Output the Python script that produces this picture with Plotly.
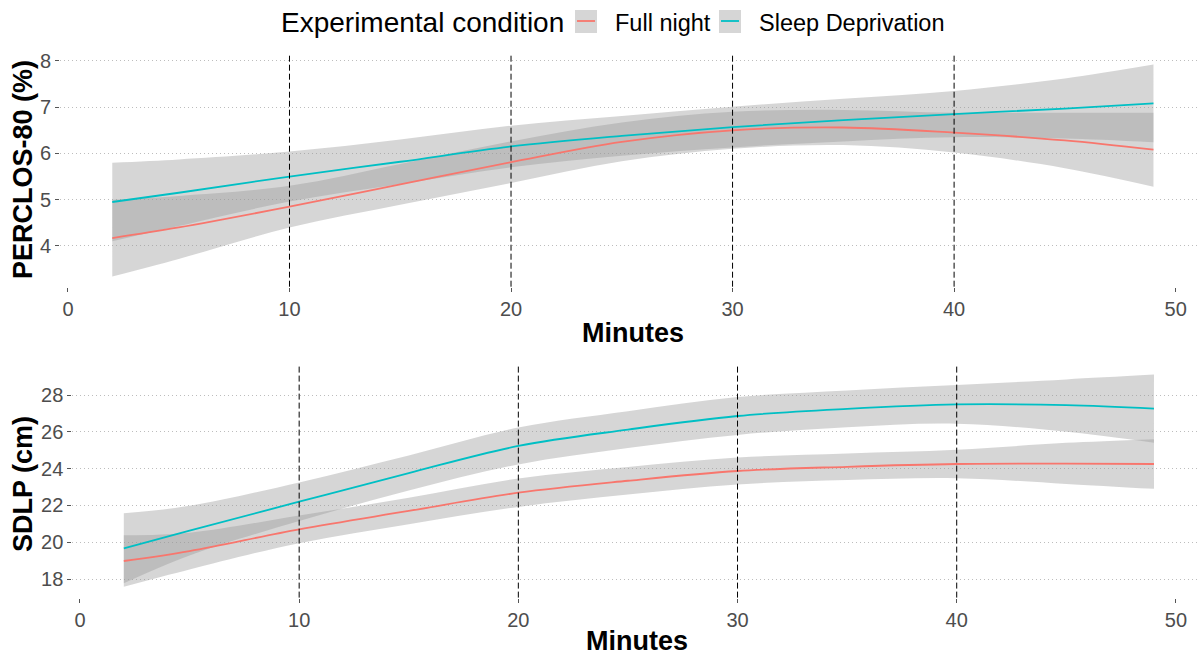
import plotly.graph_objects as go

# ---------------- data ----------------
minutes = [2, 5, 10, 15, 20, 25, 30, 35, 40, 45, 49]

# PERCLOS-80 (%)
perclos_fn_fit = [4.17, 4.40, 4.85, 5.33, 5.81, 6.25, 6.50, 6.56, 6.45, 6.28, 6.08]
perclos_fn_lo  = [3.34, 3.72, 4.40, 4.89, 5.36, 5.83, 6.10, 6.18, 6.02, 5.68, 5.28]
perclos_fn_hi  = [5.00, 5.08, 5.30, 5.77, 6.26, 6.67, 6.90, 6.94, 6.88, 6.88, 6.88]
perclos_sd_fit = [4.95, 5.15, 5.50, 5.82, 6.15, 6.38, 6.57, 6.72, 6.85, 6.97, 7.08]
perclos_sd_lo  = [4.10, 4.43, 4.96, 5.34, 5.70, 5.95, 6.13, 6.26, 6.35, 6.32, 6.24]
perclos_sd_hi  = [5.80, 5.87, 6.04, 6.30, 6.60, 6.81, 7.01, 7.18, 7.35, 7.62, 7.92]

# SDLP (cm)
sdlp_fn_fit = [18.98, 19.52, 20.70, 21.70, 22.69, 23.34, 23.87, 24.10, 24.25, 24.27, 24.25]
sdlp_fn_lo  = [17.58, 18.52, 19.95, 20.98, 21.92, 22.59, 23.14, 23.38, 23.48, 23.17, 22.90]
sdlp_fn_hi  = [20.38, 20.52, 21.45, 22.42, 23.46, 24.09, 24.60, 24.82, 25.02, 25.40, 25.60]
sdlp_sd_fit = [19.67, 20.63, 22.20, 23.76, 25.23, 26.12, 26.86, 27.25, 27.49, 27.45, 27.26]
sdlp_sd_lo  = [17.77, 19.28, 21.15, 22.81, 24.23, 25.12, 25.83, 26.25, 26.44, 26.00, 25.41]
sdlp_sd_hi  = [21.57, 21.98, 23.25, 24.71, 26.23, 27.12, 27.89, 28.25, 28.54, 28.85, 29.11]

vlines = [10, 20, 30, 40]
x_ticks = [0, 10, 20, 30, 40, 50]
perclos_ticks = [4, 5, 6, 7, 8]
sdlp_ticks = [18, 20, 22, 24, 26, 28]

conditions = ["Full night", "Sleep Deprivation"]
colors = {"Full night": "#F8766D", "Sleep Deprivation": "#00BFC4"}
band_fill = "rgba(153,153,153,0.4)"

W, H = 1200, 658
FONT = "Liberation Sans, Arial, sans-serif"
TICKC = "#4D4D4D"

fig = go.Figure()

panels = [
    ("x", "y", {
        "Full night": (perclos_fn_fit, perclos_fn_lo, perclos_fn_hi),
        "Sleep Deprivation": (perclos_sd_fit, perclos_sd_lo, perclos_sd_hi)}),
    ("x2", "y2", {
        "Full night": (sdlp_fn_fit, sdlp_fn_lo, sdlp_fn_hi),
        "Sleep Deprivation": (sdlp_sd_fit, sdlp_sd_lo, sdlp_sd_hi)}),
]

for xa, ya, series in panels:
    for cond in conditions:
        fit, lo, hi = series[cond]
        fig.add_trace(go.Scatter(x=minutes, y=lo, mode="lines", line=dict(width=0, shape="spline"),
                                 xaxis=xa, yaxis=ya, showlegend=False, hoverinfo="skip"))
        fig.add_trace(go.Scatter(x=minutes, y=hi, mode="lines", line=dict(width=0, shape="spline"),
                                 fill="tonexty", fillcolor=band_fill,
                                 xaxis=xa, yaxis=ya, showlegend=False, hoverinfo="skip"))
    for cond in conditions:
        fit, lo, hi = series[cond]
        fig.add_trace(go.Scatter(x=minutes, y=fit, mode="lines",
                                 line=dict(color=colors[cond], width=1.8, shape="spline"),
                                 xaxis=xa, yaxis=ya, showlegend=False, name=cond))

# vertical dashed lines
for xa, ya in [("x", "y"), ("x2", "y2")]:
    for v in vlines:
        fig.add_shape(type="line", xref=xa, yref=ya + " domain", x0=v, x1=v, y0=0, y1=1,
                      line=dict(color="black", width=1, dash="6px,3px"), layer="above")

def px_x(p):
    return p / W

def px_y(p):
    return 1 - p / H

xrange = [-0.35, 51.1]
axis_common = dict(showline=False, zeroline=False, ticks="outside", ticklen=4, tickwidth=1,
                   tickcolor="#555555", tickfont=dict(size=20, color=TICKC, family=FONT),
                   automargin=False)
grid_common = dict(showgrid=True, gridcolor="#bdbdbd", griddash="1px,3px", gridwidth=1)

fig.update_layout(
    width=W, height=H,
    margin=dict(l=0, r=0, t=0, b=0),
    paper_bgcolor="white", plot_bgcolor="white",
    showlegend=False,
    font=dict(family=FONT),
    xaxis=dict(domain=[px_x(60.2), 1], range=xrange, tickvals=x_ticks, showgrid=False,
               anchor="y", **axis_common),
    yaxis=dict(domain=[px_y(286.7), px_y(53)], range=[3.12, 8.17], tickvals=perclos_ticks,
               anchor="x", **grid_common, **axis_common),
    xaxis2=dict(domain=[px_x(72.3), 1], range=xrange, tickvals=x_ticks, showgrid=False,
                anchor="y2", **axis_common),
    yaxis2=dict(domain=[px_y(597.6), px_y(364.3)], range=[16.99, 29.67], tickvals=sdlp_ticks,
                anchor="x2", **grid_common, **axis_common),
)

ann = []
# axis titles
ann.append(dict(text="<b>Minutes</b>", x=px_x(633), y=px_y(333), xref="paper", yref="paper",
                showarrow=False, font=dict(size=27, color="black", family=FONT),
                xanchor="center", yanchor="middle"))
ann.append(dict(text="<b>Minutes</b>", x=px_x(637), y=px_y(641), xref="paper", yref="paper",
                showarrow=False, font=dict(size=27, color="black", family=FONT),
                xanchor="center", yanchor="middle"))
ann.append(dict(text="<b>PERCLOS-80 (%)</b>", x=px_x(23), y=px_y(170), xref="paper", yref="paper",
                showarrow=False, textangle=-90, font=dict(size=27, color="black", family=FONT),
                xanchor="center", yanchor="middle"))
ann.append(dict(text="<b>SDLP (cm)</b>", x=px_x(23), y=px_y(484), xref="paper", yref="paper",
                showarrow=False, textangle=-90, font=dict(size=27, color="black", family=FONT),
                xanchor="center", yanchor="middle"))

# custom legend
ann.append(dict(text="Experimental condition", x=px_x(279), y=px_y(23), xref="paper", yref="paper",
                showarrow=False, font=dict(size=28, color="black", family=FONT),
                xanchor="left", yanchor="middle"))
legend_pos = {"Full night": (575, 613), "Sleep Deprivation": (719, 757)}
for cond in conditions:
    bx, tx = legend_pos[cond]
    fig.add_shape(type="rect", xref="paper", yref="paper", x0=px_x(bx), x1=px_x(bx + 22),
                  y0=px_y(33), y1=px_y(10), fillcolor=band_fill, line=dict(width=0))
    fig.add_shape(type="line", xref="paper", yref="paper", x0=px_x(bx + 2), x1=px_x(bx + 20),
                  y0=px_y(21), y1=px_y(21), line=dict(color=colors[cond], width=1.8))
    ann.append(dict(text=cond, x=px_x(tx), y=px_y(23), xref="paper", yref="paper",
                    showarrow=False, font=dict(size=23.5, color="black", family=FONT),
                    xanchor="left", yanchor="middle"))

fig.update_layout(annotations=ann)

fig.write_html("out.html", config={"displayModeBar": False},
               post_script="document.body.style.margin='0';document.body.style.overflow='hidden';")
